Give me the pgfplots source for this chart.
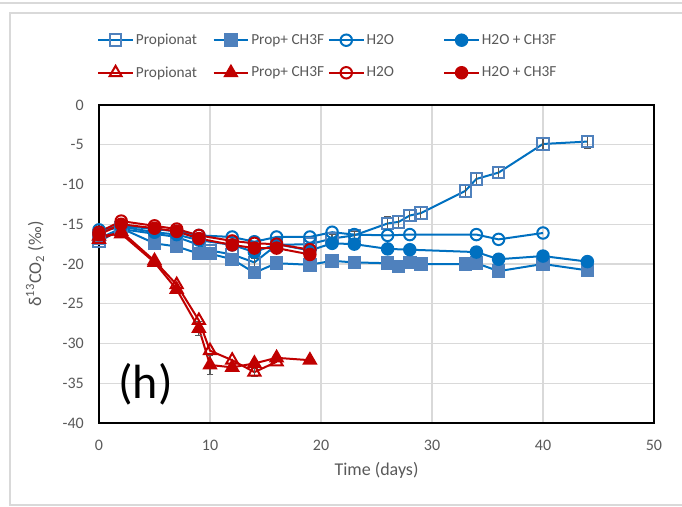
\documentclass[border=0pt]{standalone}
\usepackage{fontspec}
\setmainfont{Carlito}
\usepackage{pgfplots}
\pgfplotsset{compat=1.18}

\definecolor{cblue}{RGB}{0,112,192}
\definecolor{csq}{RGB}{79,129,189}
\definecolor{cred}{RGB}{192,0,0}
\definecolor{cgrid}{RGB}{217,217,217}
\definecolor{ctext}{RGB}{89,89,89}
\definecolor{cerr}{RGB}{89,89,89}
\definecolor{cborder}{RGB}{217,217,217}

\pgfplotsset{
  ser/.style={line width=1.5pt, mark size=4.3pt, mark options={solid, line width=1.1pt}},
  errs/.style={draw=none, forget plot, mark=none,
    error bars/.cd, y dir=both, y explicit,
    error bar style={draw=cerr, line width=0.9pt},
    error mark options={draw=cerr, rotate=90, mark size=2.6pt, line width=0.9pt}},
}

\begin{document}
\begin{tikzpicture}
\begin{axis}[
  scale only axis, width=416.25pt, height=238.5pt,
  xmin=0, xmax=50, ymin=-40, ymax=0,
  xtick={0,10,...,50}, ytick={-40,-35,...,0},
  grid=major, major grid style={draw=cgrid, line width=1.1pt},
  axis line style={line width=1.1pt, black},
  major tick length=0pt,
  tick label style={font=\fontsize{12}{14}\selectfont, text=ctext, inner sep=0pt},
  /pgf/number format/assume math mode=true,
  xticklabel style={anchor=north, yshift=-12.75pt},
  yticklabel style={anchor=east, xshift=-11.25pt},
  xlabel={Time (days)},
  ylabel={δ\textsuperscript{13}CO\textsubscript{2} (‰)},
  label style={font=\fontsize{13.5}{15}\selectfont, text=ctext},
  xlabel style={at={(axis description cs:0.5,-0.1478)}, anchor=center},
  ylabel style={at={(axis description cs:-0.1153,0.5)}, anchor=center},
  legend columns=4,
  legend style={at={(0,1)}, anchor=north west, yshift=55pt, xshift=-1.5pt,
    draw=none, fill=none, inner sep=0pt, row sep=12pt,
    font=\fontsize{11.5}{13}\selectfont, text=ctext,
    nodes={inner sep=1.5pt},
    /tikz/every even column/.append style={column sep=0pt}},
  legend cell align=left,
  legend image code/.code={\draw[#1, mark repeat=2, mark phase=2]
    plot coordinates {(0pt,0pt) (13pt,0pt) (26pt,0pt)};},
]
% blue: Propionat
\addplot[ser, cblue, mark=square, mark options={draw=csq, fill=white}] coordinates {
(0,-17.2)(2,-15.6)(5,-16.2)(7,-16.6)(9,-17.6)(10,-18.3)(12,-18.8)(14,-19.8)(16,-17.6)(19,-17.5)
(21,-16.8)(23,-16.4)(26,-14.9)(27,-14.7)(28,-13.9)(29,-13.6)(33,-10.8)(34,-9.3)(36,-8.5)(40,-4.9)(44,-4.6)};
\addlegendentry{\makebox[56pt][l]{Propionat}}
% blue: Prop+ CH3F
\addplot[ser, cblue, mark=square*, mark options={draw=csq, fill=csq}] coordinates {
(0,-16.8)(2,-15.5)(5,-17.4)(7,-17.8)(9,-18.7)(10,-18.7)(12,-19.4)(14,-21.1)(16,-19.9)(19,-20.1)
(21,-19.6)(23,-19.8)(26,-19.9)(27,-20.3)(28,-19.8)(29,-20.0)(33,-20.0)(34,-19.9)(36,-20.9)(40,-20.0)(44,-20.8)};
\addlegendentry{\makebox[56pt][l]{Prop+ CH3F}}
% blue: H2O
\addplot[ser, cblue, mark=o, mark options={fill=white}] coordinates {
(0,-15.7)(2,-15.2)(5,-15.6)(7,-15.9)(9,-16.4)(12,-16.6)(14,-17.2)(16,-16.6)(19,-16.6)
(21,-16.0)(23,-16.3)(26,-16.4)(28,-16.3)(34,-16.3)(36,-16.9)(40,-16.1)};
\addlegendentry{\makebox[56pt][l]{H2O}}
% blue: H2O + CH3F
\addplot[ser, cblue, mark=*, mark options={fill=cblue}] coordinates {
(0,-16.0)(2,-15.3)(5,-16.0)(7,-16.3)(9,-17.0)(12,-17.6)(14,-18.5)(16,-17.5)(19,-18.3)
(21,-17.4)(23,-17.5)(26,-18.1)(28,-18.2)(34,-18.5)(36,-19.4)(40,-19.0)(44,-19.7)};
\addlegendentry{H2O + CH3F}
% red: Propionat
\addplot[ser, cred, mark=triangle, mark size=5.2pt, mark options={fill=white}] coordinates {
(0,-16.9)(2,-15.9)(5,-19.6)(7,-22.6)(9,-27.1)(10,-30.9)(12,-32.1)(14,-33.6)(16,-32.3)};
\addlegendentry{\makebox[56pt][l]{Propionat}}
% red: Prop+ CH3F
\addplot[ser, cred, mark=triangle*, mark size=5.2pt, mark options={fill=cred}] coordinates {
(0,-16.5)(2,-16.2)(5,-19.8)(7,-23.2)(9,-28.1)(10,-32.7)(12,-33.0)(14,-32.5)(16,-31.8)(19,-32.1)};
\addlegendentry{\makebox[56pt][l]{Prop+ CH3F}}
% red: H2O
\addplot[ser, cred, mark=o, mark options={fill=white}] coordinates {
(0,-16.0)(2,-14.6)(5,-15.2)(7,-15.6)(9,-16.4)(12,-17.1)(14,-17.4)(16,-17.5)(19,-18.2)};
\addlegendentry{\makebox[56pt][l]{H2O}}
% red: H2O + CH3F
\addplot[ser, cred, mark=*, mark options={fill=cred}] coordinates {
(0,-16.3)(2,-15.0)(5,-15.5)(7,-15.9)(9,-16.8)(12,-17.6)(14,-18.0)(16,-18.0)(19,-18.8)};
\addlegendentry{H2O + CH3F}
% error bars
\addplot[errs] table[x=x, y=y, y error=e] {
x y e
21 -16.8 0.5
23 -16.4 0.5
26 -14.9 0.8
27 -14.7 0.8
28 -13.9 0.7
29 -13.6 0.8
33 -10.8 0.8
34 -9.3 0.8
36 -8.5 0.7
40 -4.9 0.8
44 -4.6 0.8
14 -19.8 0.5
};
\addplot[errs] table[x=x, y=y, y error=e] {
x y e
9 -28.1 0.9
10 -32.7 1.2
14 -33.6 0.5
};
\node[font=\fontsize{36}{40}\selectfont, text=black] at (axis cs:4.2,-35.1) {(h)};
\end{axis}
\draw[cborder, line width=0.9pt] (440pt,307.5pt) -- (-66.75pt,307.5pt) -- (-66.75pt,-61.5pt) -- (440pt,-61.5pt);
\draw[cborder, line width=0.9pt] (-74.25pt,315pt) -- (440pt,315pt);
\pgfresetboundingbox
\path[use as bounding box] (-74.25pt,-63pt) rectangle (437.25pt,317.25pt);
\end{tikzpicture}
\end{document}
